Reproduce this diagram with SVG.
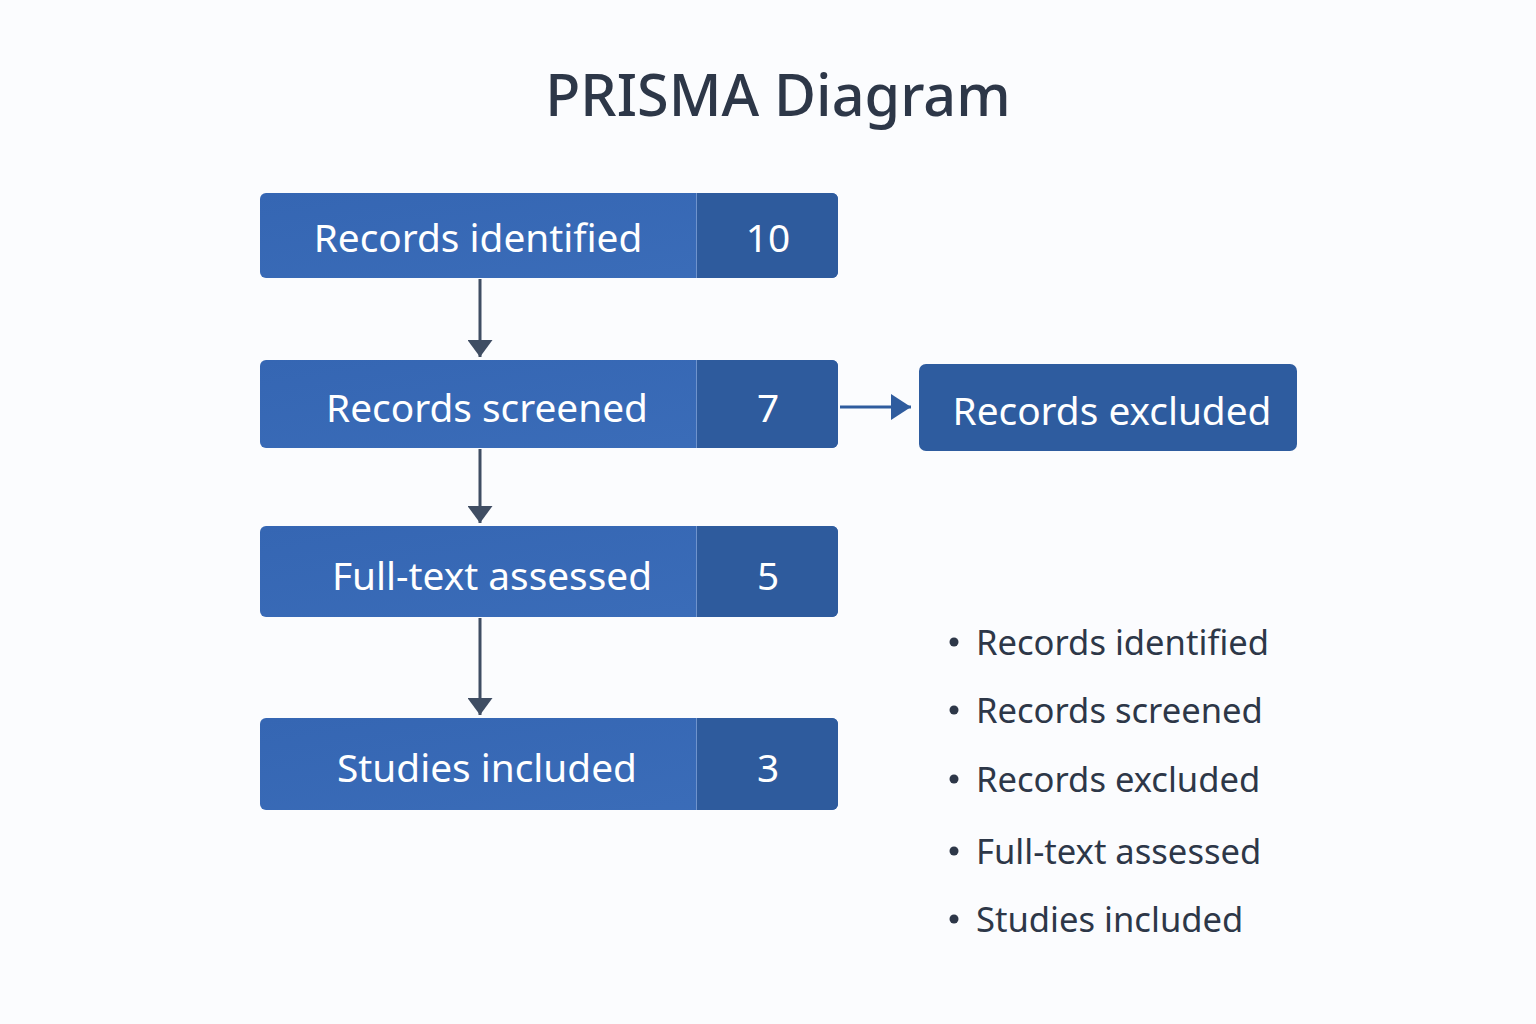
<svg xmlns="http://www.w3.org/2000/svg" width="1536" height="1024" viewBox="0 0 1536 1024">
<defs>
<linearGradient id="gl" x1="0" y1="0" x2="1" y2="1">
<stop offset="0" stop-color="#3566b3"/><stop offset="1" stop-color="#3b6db9"/>
</linearGradient>
<marker id="ah" viewBox="0 0 10 10" refX="10" refY="5" markerWidth="17" markerHeight="25" markerUnits="userSpaceOnUse" orient="auto" preserveAspectRatio="none">
<path d="M0,0 L10,5 L0,10 Z" fill="#3f4d63"/>
</marker>
<marker id="ahb" viewBox="0 0 10 10" refX="10" refY="5" markerWidth="20" markerHeight="26" markerUnits="userSpaceOnUse" orient="auto" preserveAspectRatio="none">
<path d="M0,0 L10,5 L0,10 Z" fill="#2f5c9e"/>
</marker>
</defs>
<style>
.lt{fill:url(#gl)}
.rt{fill:#2e5b9d}
.nt{font-family:"Noto Sans","Open Sans",sans-serif;font-size:38.8px;fill:#ffffff;text-anchor:middle}
.lg{font-family:"Noto Sans","Open Sans",sans-serif;font-size:34.6px;fill:#2d3748}
.conn{stroke:#3f4d63;stroke-width:3;fill:none}
</style>
<rect width="1536" height="1024" fill="#fbfcfe"/>
<text x="778" y="116" font-family="Noto Sans, Open Sans, sans-serif" font-size="57.5" font-weight="500" fill="#2d3748" text-anchor="middle">PRISMA Diagram</text>

<g id="node-identified">
<rect x="260" y="193" width="578" height="85" rx="6" class="lt"/>
<path d="M696,193 H832 a6,6 0 0 1 6,6 V272 a6,6 0 0 1 -6,6 H696 Z" class="rt"/>
<line x1="696.5" y1="193" x2="696.5" y2="278" stroke="#6f93cc" stroke-width="1"/>
<text x="478" y="252" class="nt">Records identified</text>
<text x="768" y="252" class="nt">10</text>
</g>
<g id="node-screened">
<rect x="260" y="360" width="578" height="88" rx="6" class="lt"/>
<path d="M696,360 H832 a6,6 0 0 1 6,6 V442 a6,6 0 0 1 -6,6 H696 Z" class="rt"/>
<line x1="696.5" y1="360" x2="696.5" y2="448" stroke="#6f93cc" stroke-width="1"/>
<text x="487" y="422" class="nt">Records screened</text>
<text x="768" y="422" class="nt">7</text>
</g>
<g id="node-fulltext">
<rect x="260" y="526" width="578" height="91" rx="6" class="lt"/>
<path d="M696,526 H832 a6,6 0 0 1 6,6 V611 a6,6 0 0 1 -6,6 H696 Z" class="rt"/>
<line x1="696.5" y1="526" x2="696.5" y2="617" stroke="#6f93cc" stroke-width="1"/>
<text x="492" y="590" class="nt">Full-text assessed</text>
<text x="768" y="590" class="nt">5</text>
</g>
<g id="node-included">
<rect x="260" y="718" width="578" height="92" rx="6" class="lt"/>
<path d="M696,718 H832 a6,6 0 0 1 6,6 V804 a6,6 0 0 1 -6,6 H696 Z" class="rt"/>
<line x1="696.5" y1="718" x2="696.5" y2="810" stroke="#6f93cc" stroke-width="1"/>
<text x="487" y="782" class="nt">Studies included</text>
<text x="768" y="782" class="nt">3</text>
</g>
<g id="node-excluded">
<rect x="919" y="364" width="378" height="87" rx="7" fill="#2e5c9f"/>
<text x="1112" y="425" class="nt">Records excluded</text>
</g>

<g id="connectors">
<line x1="480" y1="279" x2="480" y2="357" class="conn" marker-end="url(#ah)"/>
<line x1="480" y1="449" x2="480" y2="523" class="conn" marker-end="url(#ah)"/>
<line x1="480" y1="618" x2="480" y2="715" class="conn" marker-end="url(#ah)"/>
<line x1="840" y1="407" x2="911" y2="407" stroke="#2f5c9e" stroke-width="3" marker-end="url(#ahb)"/>
</g>

<g id="legend">
<circle cx="954" cy="642" r="4.5" fill="#2d3748"/>
<text x="976" y="655" class="lg">Records identified</text>
<circle cx="954" cy="710" r="4.5" fill="#2d3748"/>
<text x="976" y="723" class="lg">Records screened</text>
<circle cx="954" cy="779" r="4.5" fill="#2d3748"/>
<text x="976" y="792" class="lg">Records excluded</text>
<circle cx="954" cy="851" r="4.5" fill="#2d3748"/>
<text x="976" y="864" class="lg">Full-text assessed</text>
<circle cx="954" cy="919" r="4.5" fill="#2d3748"/>
<text x="976" y="932" class="lg">Studies included</text>
</g>
</svg>
